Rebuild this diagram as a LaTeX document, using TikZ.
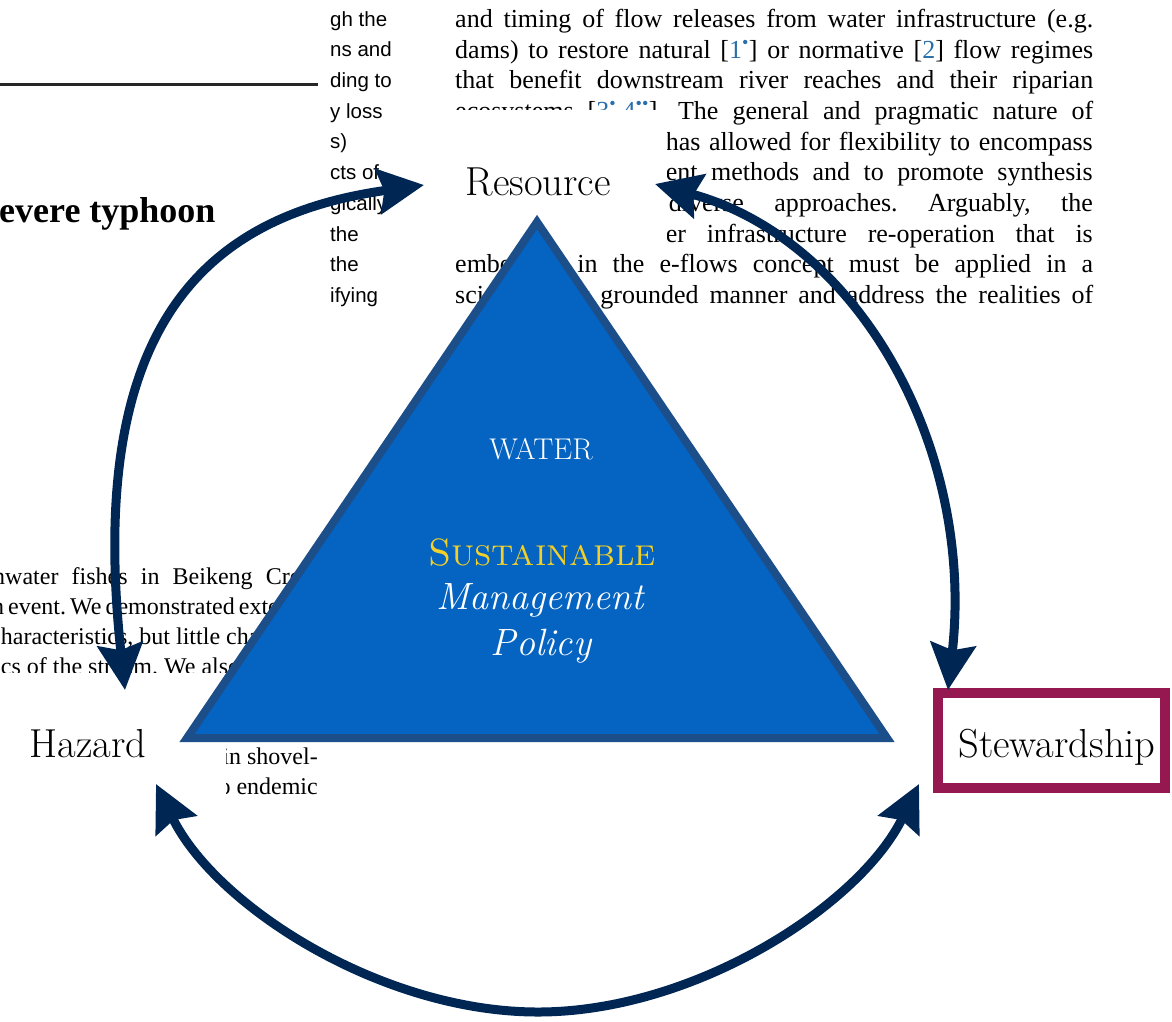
\documentclass[tikz,border=0pt]{standalone}
\usepackage{fontspec}
\newfontfamily\papersf{Liberation Sans}
\newfontfamily\paperrm{Liberation Serif}
\usetikzlibrary{arrows.meta,shadows}
\definecolor{wmnavy}{RGB}{0,38,84}
\definecolor{wmblue}{RGB}{5,99,193}
\definecolor{wmedge}{RGB}{28,78,138}
\definecolor{wmgold}{RGB}{242,208,40}
\definecolor{wmwine}{RGB}{150,24,80}
\definecolor{wmcite}{RGB}{40,110,170}
\newcommand{\refmark}[1]{{\color{wmcite}#1}}
\frenchspacing

\begin{document}
\begin{tikzpicture}[x=1pt,y=-1pt,>={Stealth[length=46pt,width=45pt,inset=6pt]},
  flow/.style={wmnavy,line width=9pt,<->},
  term/.style={font=\fontsize{40.5}{42}\selectfont,inner sep=0pt,anchor=base},
  inner/.style={white,inner sep=0pt,anchor=base},
  scrap/.style={inner sep=0pt,anchor=base west},
  sfline/.style={scrap,font=\papersf\fontsize{20.5}{21}\selectfont},
  rmline/.style={scrap,font=\paperrm\fontsize{24}{26}\selectfont},
  bigline/.style={scrap,font=\paperrm\fontsize{26}{28}\selectfont}]
  \useasboundingbox (0,0) rectangle (1172,1021);

  % page scraps behind the figure
  \begin{scope}
    \clip (0,0) rectangle (1172,318);
    \draw[line width=3pt,black!85] (0,84) -- (318,84);
    \node[scrap,font=\paperrm\bfseries\fontsize{36}{37}\selectfont] (head) at (-1,222) {evere typhoon};
    \node[sfline] (s1) at (330,26) {gh the};
    \node[sfline] (s2) at (330,56) {ns and};
    \node[sfline] (s3) at (330,87) {ding to};
    \node[sfline] (s4) at (330,118) {y loss};
    \node[sfline] (s5) at (330,148) {s)};
    \node[sfline] (s6) at (330,179) {cts of};
    \node[sfline] (s7) at (330,210) {gically};
    \node[sfline] (s8) at (330,241) {the};
    \node[sfline] (s9) at (330,271) {the};
    \node[sfline] (s10) at (330,302) {ifying};
    \node[bigline] (p1) at (455,27) {\makebox[638pt][s]{and timing of flow releases from water infrastructure (e.g.}};
    \node[bigline] (p2) at (455,58) {\makebox[638pt][s]{dams) to restore natural [\refmark{1\textsuperscript{\textbullet}}] or normative [\refmark{2}] flow regimes}};
    \node[bigline] (p3) at (455,88) {\makebox[638pt][s]{that benefit downstream river reaches and their riparian}};
    \node[bigline] (p4) at (455,119) {\makebox[638pt][s]{ecosystems [\refmark{3\textsuperscript{\textbullet}},\refmark{4\textsuperscript{\textbullet\textbullet}}]. The general and pragmatic nature of}};
    \node[bigline,anchor=base east] (p5) at (1093,150) {\makebox[427pt][s]{has allowed for flexibility to encompass}};
    \node[bigline,anchor=base east] (p6) at (1093,180) {\makebox[427pt][s]{ent methods and to promote synthesis}};
    \node[bigline,anchor=base east] (p7) at (1093,211) {\makebox[424pt][s]{diverse approaches. Arguably, the}};
    \node[bigline,anchor=base east] (p8) at (1093,242) {\makebox[427pt][s]{er infrastructure re-operation that is}};
    \node[bigline] (p9) at (455,272) {\makebox[638pt][s]{embedded in the e-flows concept must be applied in a}};
    \node[bigline] (p10) at (455,303) {\makebox[638pt][s]{scientifically grounded manner and address the realities of}};
    \fill[white] (440,110) rectangle (667,241);
  \end{scope}
  \begin{scope}
    \clip (0,560) rectangle (330,672);
    \node[rmline] (l1) at (-7,584) {\makebox[330pt][s]{nwater fishes in Beikeng Creek}};
    \node[rmline] (l2) at (-8,614) {\makebox[330pt][s]{n event. We demonstrated extensive}};
    \node[rmline] (l3) at (-10,644) {characteristics, but little change};
    \node[rmline] (l4) at (-6,674) {ics of the stream. We also};
  \end{scope}
  \begin{scope}
    \clip (226,740) rectangle (330,805);
    \node[rmline,anchor=base east] (l5) at (318,764) {in shovel-};
    \node[rmline,anchor=base east] (l6) at (318,794) {to endemic};
  \end{scope}

  % triangle
  \coordinate (apex) at (537,222);
  \coordinate (bl) at (187,738);
  \coordinate (br) at (887,738);
  \draw[wmedge,line width=8pt,fill=wmblue,drop shadow={opacity=0.3,shadow xshift=2pt,shadow yshift=-3pt}] (apex) -- (br) -- (bl) -- cycle;
  \node[inner,font=\fontsize{30}{30}\selectfont] (water) at (541,459) {WATER};
  \node[inner,wmgold,font=\fontsize{38}{38}\selectfont\scshape] (sust) at (542,565) {Sustainable};
  \node[inner,font=\fontsize{38}{38}\selectfont\itshape] (mgmt) at (540,609) {Management};
  \node[inner,font=\fontsize{38}{38}\selectfont\itshape] (policy) at (541,655) {Policy};

  % terms
  \draw[wmwine,line width=10pt,fill=white,drop shadow={opacity=0.3,shadow xshift=2pt,shadow yshift=-3pt}] (938,693) rectangle (1165,788);
  \node[term] (res) at (538,195) {Resource};
  \node[term] (haz) at (88,757) {Hazard};
  \node[term] (stw) at (1057,757) {Stewardship};

  % cycle arrows
  \coordinate (resW) at (424,185);
  \coordinate (resE) at (655,184);
  \coordinate (hazN) at (125,690);
  \coordinate (hazS) at (156,784);
  \coordinate (stwN) at (948,690);
  \coordinate (stwS) at (919,784);
  \draw[flow] (hazN) .. controls (85,320) and (210,215) .. (resW);
  \draw[flow] (resE) .. controls (860,240) and (975,450) .. (stwN);
  \draw[flow] (hazS) .. controls (215,905) and (380,1012) .. (538,1012) .. controls (695,1012) and (860,905) .. (stwS);
\end{tikzpicture}
\end{document}
